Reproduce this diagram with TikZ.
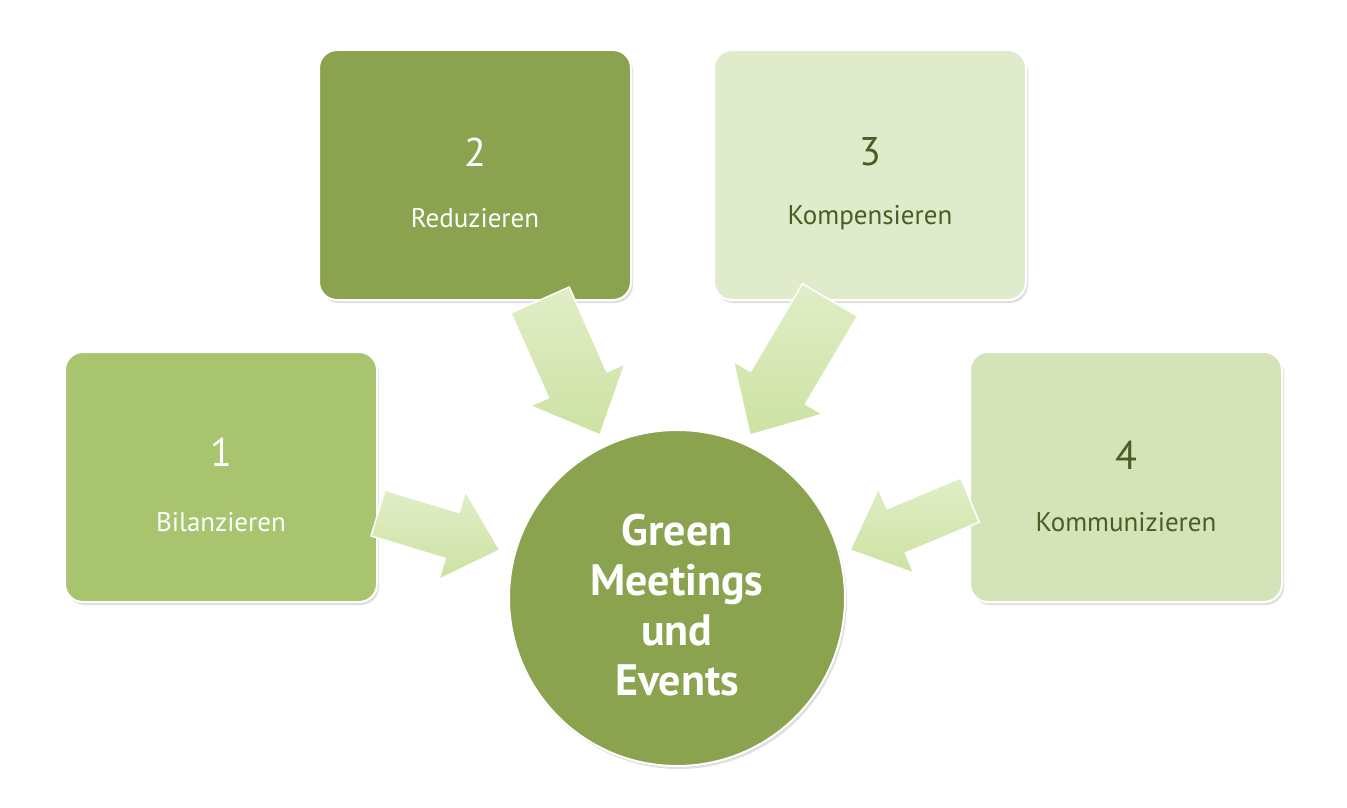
\documentclass[tikz,border=0pt]{standalone}
\usepackage{fontspec}
\setmainfont{PT Sans}
\usetikzlibrary{calc,shadows}
\definecolor{gdark}{HTML}{8BA34E}
\definecolor{gmid}{HTML}{A9C46E}
\definecolor{glight}{HTML}{E0EBCB}
\definecolor{glight2}{HTML}{D5E3B8}
\definecolor{gtext}{HTML}{4A5E23}
\definecolor{garrow}{HTML}{CDE2A2}
\tikzset{
 box/.style={rounded corners=18pt,minimum width=312pt,minimum height=250pt,draw=white,line width=2pt,
   drop shadow={shadow xshift=2pt,shadow yshift=-3pt,opacity=.25},align=center},
 num/.style={font=\fontsize{40}{40}\selectfont},
 lbl/.style={font=\fontsize{27}{27}\selectfont},
 arr/.style={draw=white,line width=1.5pt,top color=garrow!60,bottom color=garrow,shading angle=0}
}
\newcommand{\blkarrow}[5]{% a b w W L
 \path ($(#2)!#5!(#1)$) coordinate (hh);
 \draw[arr] ($(#1)!#3!90:(#2)$) -- ($(hh)!#3!90:(#2)$) -- ($(hh)!#4!90:(#2)$) -- (#2)
   -- ($(hh)!#4!-90:(#2)$) -- ($(hh)!#3!-90:(#2)$) -- ($(#1)!#3!-90:(#2)$) -- cycle;}
\begin{document}
\begin{tikzpicture}[x=1pt,y=-1pt]
\useasboundingbox[fill=white] (0,0) rectangle (1347,808);
\node[box,fill=gmid] (b1) at (221,477) {};
\node[box,fill=gdark] (b2) at (475,175) {};
\node[box,fill=glight] (b3) at (870,175) {};
\node[box,fill=glight2] (b4) at (1126,477) {};
\node[num,white] (n1) at (221,452) {1};
\node[lbl,white] (l1) at (221,522) {Bilanzieren};
\node[num,white] (n2) at (475,152) {2};
\node[lbl,white] (l2) at (475,218) {Reduzieren};
\node[num,gtext] (n3) at (870,152) {3};
\node[lbl,gtext] (l3) at (870,218) {Kompensieren};
\node[num,gtext] (n4) at (1126,455) {4};
\node[lbl,gtext] (l4) at (1126,522) {Kommunizieren};
\coordinate (a1s) at (378,513); \coordinate (a1e) at (500,550);
\coordinate (a2s) at (540,300); \coordinate (a2e) at (600,435);
\coordinate (a3s) at (830,300); \coordinate (a3e) at (750,435);
\coordinate (a4s) at (970,500); \coordinate (a4e) at (850,550);
\blkarrow{a1s}{a1e}{24pt}{46pt}{50pt}
\blkarrow{a2s}{a2e}{32pt}{52pt}{55pt}
\blkarrow{a3s}{a3e}{32pt}{52pt}{55pt}
\blkarrow{a4s}{a4e}{24pt}{46pt}{50pt}
\node[circle,minimum size=336pt,fill=gdark,draw=white,line width=2pt,
  drop shadow={shadow xshift=2pt,shadow yshift=-3pt,opacity=.25}] (c) at (677,598) {};
\node[white,font=\bfseries\fontsize{44}{50}\selectfont,align=center] (ct) at (677,605)
 {Green\\Meetings\\und\\Events};
\end{tikzpicture}
\end{document}
